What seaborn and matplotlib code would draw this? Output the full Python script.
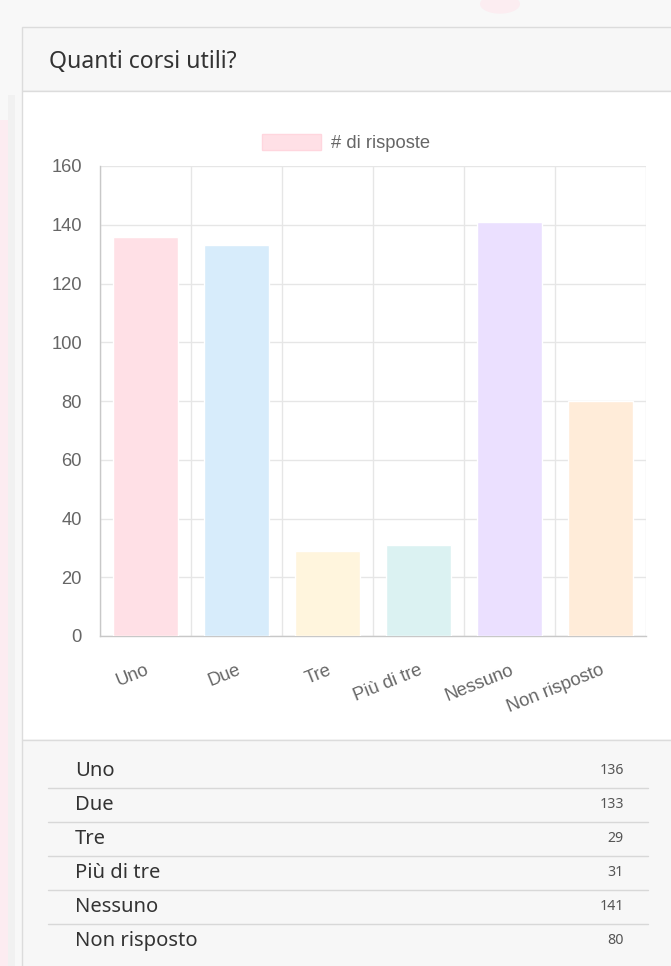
import matplotlib
matplotlib.use('Agg')
import matplotlib.pyplot as plt
import seaborn as sns
import numpy as np
from matplotlib.patches import Rectangle, Ellipse, Patch
from matplotlib.lines import Line2D

# Data
categories = ['Uno', 'Due', 'Tre', 'Più di tre', 'Nessuno', 'Non risposto']
risposte = [136, 133, 29, 31, 141, 80]
bar_colors = ['#ffe0e6', '#d7ecfb', '#fff5dd', '#dbf2f2', '#ebe0ff', '#ffecd9']
y_ticks = [0, 20, 40, 60, 80, 100, 120, 140, 160]
title = 'Quanti corsi utili?'
series_label = '# di risposte'

W, H = 671, 966
sns.set_style('white')
chart_font = ['Liberation Sans', 'DejaVu Sans']
ui_font = ['Noto Sans', 'DejaVu Sans']
plt.rcParams['font.family'] = chart_font

fig = plt.figure(figsize=(W / 100, H / 100), dpi=100, facecolor='#f8f8f8')
renderer = fig.canvas.get_renderer()


def fx(px):
    return px / W


def fy(py):
    return 1 - py / H


def box(x0, y0, x1, y1, **kw):
    fig.patches.append(Rectangle((fx(x0), fy(y1)), fx(x1) - fx(x0), fy(y0) - fy(y1),
                                 transform=fig.transFigure, figure=fig, zorder=-5, **kw))


def hline(y, x0, x1, color, lw=1):
    fig.lines.append(Line2D([fx(x0), fx(x1)], [fy(y), fy(y)], transform=fig.transFigure,
                            figure=fig, color=color, lw=lw))


def size_for(text, family, target_px, ref=10):
    # font size that makes the text about target_px wide
    t = fig.text(0, 0, text, fontsize=ref, family=family)
    w = t.get_window_extent(renderer).width
    t.remove()
    return ref * target_px / w


chart_size = size_for(series_label, chart_font, 99)
title_size = size_for(title, ui_font, 188)
row_size = size_for('Non risposto', ui_font, 122)
num_size = 10.2

# page background bits
box(0, 120, 8, 966, fc='#fcecf1', ec='none')
box(8, 95, 15, 966, fc='#f1f1f1', ec='none')
fig.patches.append(Ellipse((fx(500), fy(4)), fx(40), 0.02, transform=fig.transFigure,
                           figure=fig, fc='#fcedf1', ec='none', zorder=-6))

# card: header, body, footer
box(22, 27, 690, 91, fc='#f7f7f7', ec='#dcdcdc', lw=1)
box(22, 91, 690, 740, fc='white', ec='#dcdcdc', lw=1)
box(22, 740, 690, 980, fc='#f7f7f7', ec='#dcdcdc', lw=1)
fig.text(fx(49), fy(62), title, fontsize=title_size, color='#333333', family=ui_font,
         ha='left', va='center')

# bar chart
ax = fig.add_axes([fx(100), fy(636), fx(646) - fx(100), fy(166) - fy(636)])
ax.set_facecolor('none')
sns.barplot(x=categories, y=risposte, hue=categories, palette=bar_colors, legend=False,
            width=0.71, saturation=1, ax=ax, zorder=3)
ax.set_xlim(-0.5, len(categories) - 0.5)
ax.set_ylim(0, 160)
ax.set_yticks(y_ticks)
ax.set_xticks(np.arange(-0.5, len(categories)), minor=True)
ax.grid(axis='y', which='major', color='#e6e6e6', lw=1, zorder=0)
ax.grid(axis='x', which='minor', color='#e6e6e6', lw=1, zorder=0)
ax.set_axisbelow(True)
for s in ['top', 'right']:
    ax.spines[s].set_visible(False)
for s in ['left', 'bottom']:
    ax.spines[s].set_color('#c8c8c8')
    ax.spines[s].set_linewidth(1)
ax.tick_params(axis='y', length=8, color='#e6e6e6', pad=5, labelsize=chart_size,
               labelcolor='#666666')
ax.tick_params(axis='x', which='major', length=0, pad=18.5, labelsize=chart_size,
               labelcolor='#666666')
ax.tick_params(axis='x', which='minor', length=10, color='#e6e6e6')
ax.set_xlabel('')
ax.set_ylabel('')
for lab in ax.get_xticklabels():
    lab.set_rotation(22)
    lab.set_ha('right')
    lab.set_va('top')
    lab.set_rotation_mode('anchor')

fig.legend(handles=[Patch(fc=bar_colors[0], ec='#ffd6de')], labels=[series_label],
           loc='center', bbox_to_anchor=(fx(346), fy(143)), frameon=False,
           handlelength=3.25, handleheight=1.0, handletextpad=0.55, borderpad=0,
           prop={'family': chart_font, 'size': chart_size}, labelcolor='#666666')

# table below the chart
row_h = 34
for i, (cat, val) in enumerate(zip(categories, risposte)):
    yc = 771 + i * row_h
    fig.text(fx(75), fy(yc), cat, fontsize=row_size, color='#333333', family=ui_font,
             ha='left', va='center')
    fig.text(fx(624), fy(yc), str(val), fontsize=num_size, color='#555555', family=ui_font,
             ha='right', va='center')
    if i < len(categories) - 1:
        hline(yc + row_h / 2, 48, 648, '#d8d8d8')

fig.savefig('out.png', dpi=100, facecolor=fig.get_facecolor())
